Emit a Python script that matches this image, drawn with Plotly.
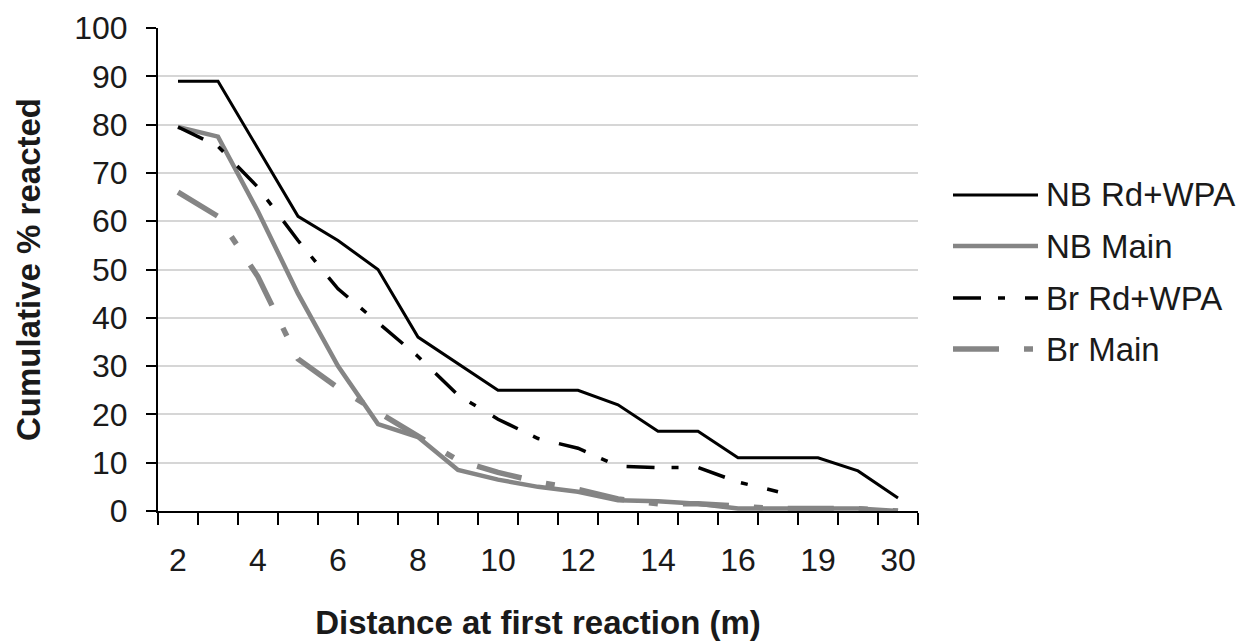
import plotly.graph_objects as go

categories = ["2", "3", "4", "5", "6", "7", "8", "9", "10", "11", "12", "13",
              "14", "15", "16", "18", "19", "25", "30"]
tick_labels = ["2", "", "4", "", "6", "", "8", "", "10", "", "12", "", "14",
               "", "16", "", "19", "", "30"]

nb_rd_wpa = [89, 89, 75, 61, 56, 50, 36, 30.5, 25, 25, 25, 22, 16.5, 16.5,
             11, 11, 11, 8.3, 2.7]
nb_main = [79.5, 77.5, 62, 45, 30, 18, 15.3, 8.5, 6.5, 5, 4, 2.2, 2, 1.5,
           0.5, 0.5, 0.5, 0.5, 0]
br_rd_wpa = [79.5, 75.5, 67, 56, 46, 39, 32, 24, 19, 15, 13, 9.3, 9, 9, 6, 4]
br_main = [66, 61, 48.5, 31.5, 25.5, 20.5, 15.5, 10.5, 8, 6, 4.5, 2.5, 1.5,
           1.5, 1, 0.5, 0.5, 0.5, 0]

series = [
    ("NB Rd+WPA", nb_rd_wpa, "#000000", 3, "solid"),
    ("NB Main", nb_main, "#858585", 4.5, "solid"),
    ("Br Rd+WPA", br_rd_wpa, "#000000", 3.5, "28px,17px,7px,20px"),
    ("Br Main", br_main, "#858585", 5.5, "46px,25px,9px,25px"),
]

FONT = "Liberation Sans, Arial, sans-serif"
# the page body has an 8px default margin; compensate so the chart lands
# where the original sits in the 1254x642 window
OFF = 8
W, H = 1254 - OFF, 642 - OFF
L, T = 158 - OFF, 28 - OFF
PW, PH = 760, 483
R, B = W - L - PW, H - T - PH


def px(x):
    return (x - OFF - L) / PW


def py(y):
    return (T + PH - (y - OFF)) / PH


fig = go.Figure()
for name, vals, color, width, dash in series:
    fig.add_trace(go.Scatter(
        x=categories[:len(vals)], y=vals, mode="lines", name=name,
        line=dict(color=color, width=width, dash=dash),
        showlegend=False,
    ))

# custom legend (long sample lines as in the original)
leg_y = [195, 246, 298, 349]
for (name, vals, color, width, dash), yy in zip(series, leg_y):
    fig.add_shape(type="line", xref="paper", yref="paper",
                  x0=px(953), x1=px(1038), y0=py(yy), y1=py(yy),
                  line=dict(color=color, width=width, dash=dash))
    fig.add_annotation(xref="paper", yref="paper",
                       x=px(1044), y=py(yy), text=name, showarrow=False,
                       xanchor="left", yanchor="middle",
                       font=dict(family=FONT, size=33, color="#1a1a1a"))

fig.update_layout(
    width=W, height=H,
    margin=dict(l=L, r=R, t=T, b=B, autoexpand=False),
    paper_bgcolor="white", plot_bgcolor="white",
    font=dict(family=FONT, size=32, color="#1a1a1a"),
)
fig.update_xaxes(
    type="category", categoryorder="array", categoryarray=categories,
    tickmode="array", tickvals=categories, ticktext=tick_labels,
    tickson="boundaries", ticks="outside", ticklen=12, tickwidth=2,
    tickcolor="#000", showline=True, linecolor="#000", linewidth=2,
    showgrid=False, ticklabelstandoff=20, tickangle=0, automargin=False,
    tickfont=dict(family=FONT, size=32, color="#1a1a1a"),
    title=dict(text="<b>Distance at first reaction (m)</b>", standoff=33,
               font=dict(family=FONT, size=33, color="#1a1a1a")),
    range=[-0.5, 18.5],
)
fig.update_yaxes(
    range=[0, 100], tickmode="linear", tick0=0, dtick=10,
    ticks="outside", ticklen=10, tickwidth=2, tickcolor="#000",
    showline=True, linecolor="#000", linewidth=2,
    showgrid=True, gridcolor="#d6d6d6", gridwidth=2, zeroline=False,
    ticklabelstandoff=12, automargin=False,
    tickfont=dict(family=FONT, size=32, color="#1a1a1a"),
    title=dict(text="<b>Cumulative % reacted</b>", standoff=24,
               font=dict(family=FONT, size=33, color="#1a1a1a")),
)

fig.write_html("out.html")
